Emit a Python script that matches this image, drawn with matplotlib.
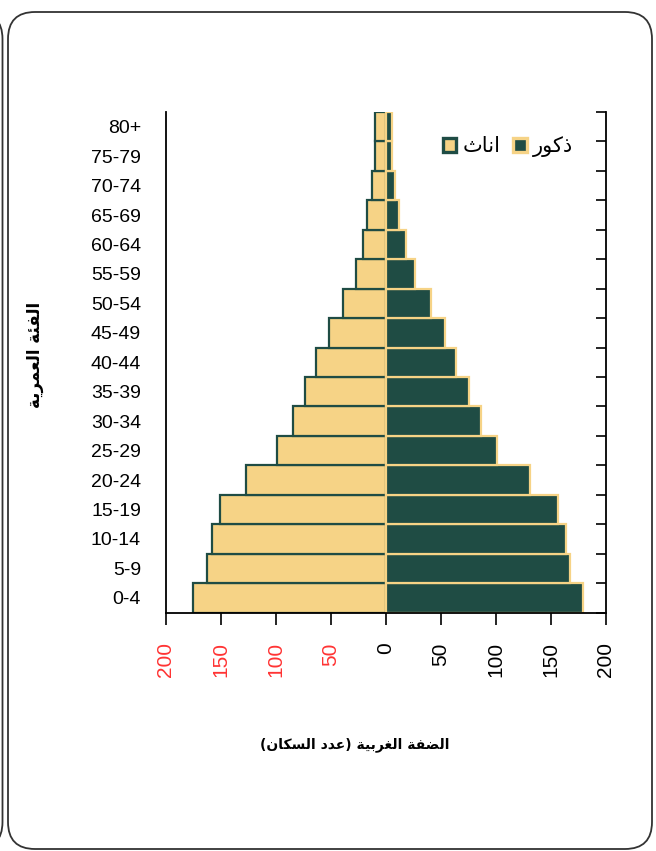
import matplotlib.pyplot as plt
from matplotlib.patches import FancyBboxPatch, Patch
from matplotlib.transforms import IdentityTransform
from matplotlib.ticker import FixedLocator
from matplotlib import font_manager
import numpy as np

ages = ['0-4', '5-9', '10-14', '15-19', '20-24', '25-29', '30-34', '35-39', '40-44',
        '45-49', '50-54', '55-59', '60-64', '65-69', '70-74', '75-79', '80+']
female = [175, 163, 158, 151, 127, 99, 85, 74, 64, 52, 39, 27, 21, 17, 13, 10, 10]
male = [179, 167, 164, 156, 131, 101, 86, 75, 64, 54, 41, 26, 18, 12, 8, 5, 5]
x_ticks = [-200, -150, -100, -50, 0, 50, 100, 150, 200]

y_title = 'الفئة العمرية'
x_title = 'الضفة الغربية (عدد السكان)'
lbl_female = 'اناث'
lbl_male = 'ذكور'

# presentation forms so the arabic joins without a shaping engine
DUAL = {'ب': 0xFE8F, 'ث': 0xFE99, 'س': 0xFEB1, 'ض': 0xFEBD, 'ع': 0xFEC9, 'غ': 0xFECD,
        'ف': 0xFED1, 'ك': 0xFED9, 'ل': 0xFEDD, 'م': 0xFEE1, 'ن': 0xFEE5, 'ي': 0xFEF1, 'ئ': 0xFE89}
RIGHT = {'ا': 0xFE8D, 'ة': 0xFE93, 'د': 0xFEA9, 'ذ': 0xFEAB, 'ر': 0xFEAD, 'و': 0xFEED}


def shape(text):
    out = []
    for i, ch in enumerate(text):
        if ch in DUAL or ch in RIGHT:
            base = DUAL.get(ch, RIGHT.get(ch))
            prev = i > 0 and text[i-1] in DUAL
            nxt = ch in DUAL and i < len(text)-1 and (text[i+1] in DUAL or text[i+1] in RIGHT)
            form = {(False, False): 0, (True, False): 1, (False, True): 2, (True, True): 3}[(prev, nxt)]
            out.append(chr(base + form))
        else:
            out.append({'(': ')', ')': '('}.get(ch, ch))
    return ''.join(reversed(out))


names = {f.name for f in font_manager.fontManager.ttflist}
num_font = 'Liberation Sans Narrow' if 'Liberation Sans Narrow' in names else 'Liberation Sans'

yellow = '#F6D386'
green = '#1F4C44'

fig = plt.figure(figsize=(6.56, 8.51), dpi=100)
ax = fig.add_axes([166/656, 1-612.5/851, 440/656, 500.5/851])

y = np.arange(len(ages))
ax.barh(y, [-v for v in female], height=1.0, color=yellow, edgecolor=green, linewidth=1.6)
ax.barh(y, male, height=1.0, color=green, edgecolor=yellow, linewidth=1.6)

ax.set_xlim(-200, 200)
ax.set_ylim(-0.5, len(ages)-0.5)
ax.spines['top'].set_visible(False)
for s in ['left', 'right', 'bottom']:
    ax.spines[s].set_linewidth(1.3)

ax.set_yticks(y, ages, fontfamily=num_font, fontsize=14)
ax.tick_params(axis='y', which='major', length=0, pad=18)
ax.yaxis.set_minor_locator(FixedLocator(np.arange(-0.5, len(ages), 1)))
ax.tick_params(axis='y', which='minor', left=False, right=True, direction='in', length=7, width=1.2)

ax.set_xticks(x_ticks, [str(abs(t)) for t in x_ticks], rotation=90, fontfamily=num_font, fontsize=15)
ax.tick_params(axis='x', direction='out', length=8.5, width=1.2, pad=13)
for t, lab in zip(x_ticks, ax.get_xticklabels()):
    lab.set_color('#FF3333' if t < 0 else 'black')
    lab.set_verticalalignment('top')

handles = [Patch(facecolor=yellow, edgecolor=green, linewidth=2.4),
           Patch(facecolor=green, edgecolor=yellow, linewidth=2.4)]
ax.legend(handles, [shape(lbl_female), shape(lbl_male)], ncol=2, loc='upper right',
          bbox_to_anchor=(0.925, 0.952), frameon=False, handlelength=0.65, handleheight=0.65,
          handletextpad=0.3, columnspacing=0.6, borderpad=0, borderaxespad=0,
          prop={'family': 'DejaVu Sans', 'size': 15})

fig.text(35/656, 1-355/851, shape(y_title), rotation=90, ha='center', va='center',
         fontweight='bold', fontsize=12, family='DejaVu Sans')
fig.text(355/656, 1-745/851, shape(x_title), ha='center', va='center',
         fontweight='bold', fontsize=10, family='DejaVu Sans')

# chart border and the edge of the neighbouring chart
fig.add_artist(FancyBboxPatch((8, 2), 644, 837, boxstyle='round,pad=0,rounding_size=27',
                              transform=IdentityTransform(), fill=False, edgecolor='#333333', linewidth=1.3))
fig.add_artist(FancyBboxPatch((-300, 2), 302.5, 837, boxstyle='round,pad=0,rounding_size=27',
                              transform=IdentityTransform(), fill=False, edgecolor='#333333', linewidth=1.3))

fig.savefig('out.png', dpi=100)
